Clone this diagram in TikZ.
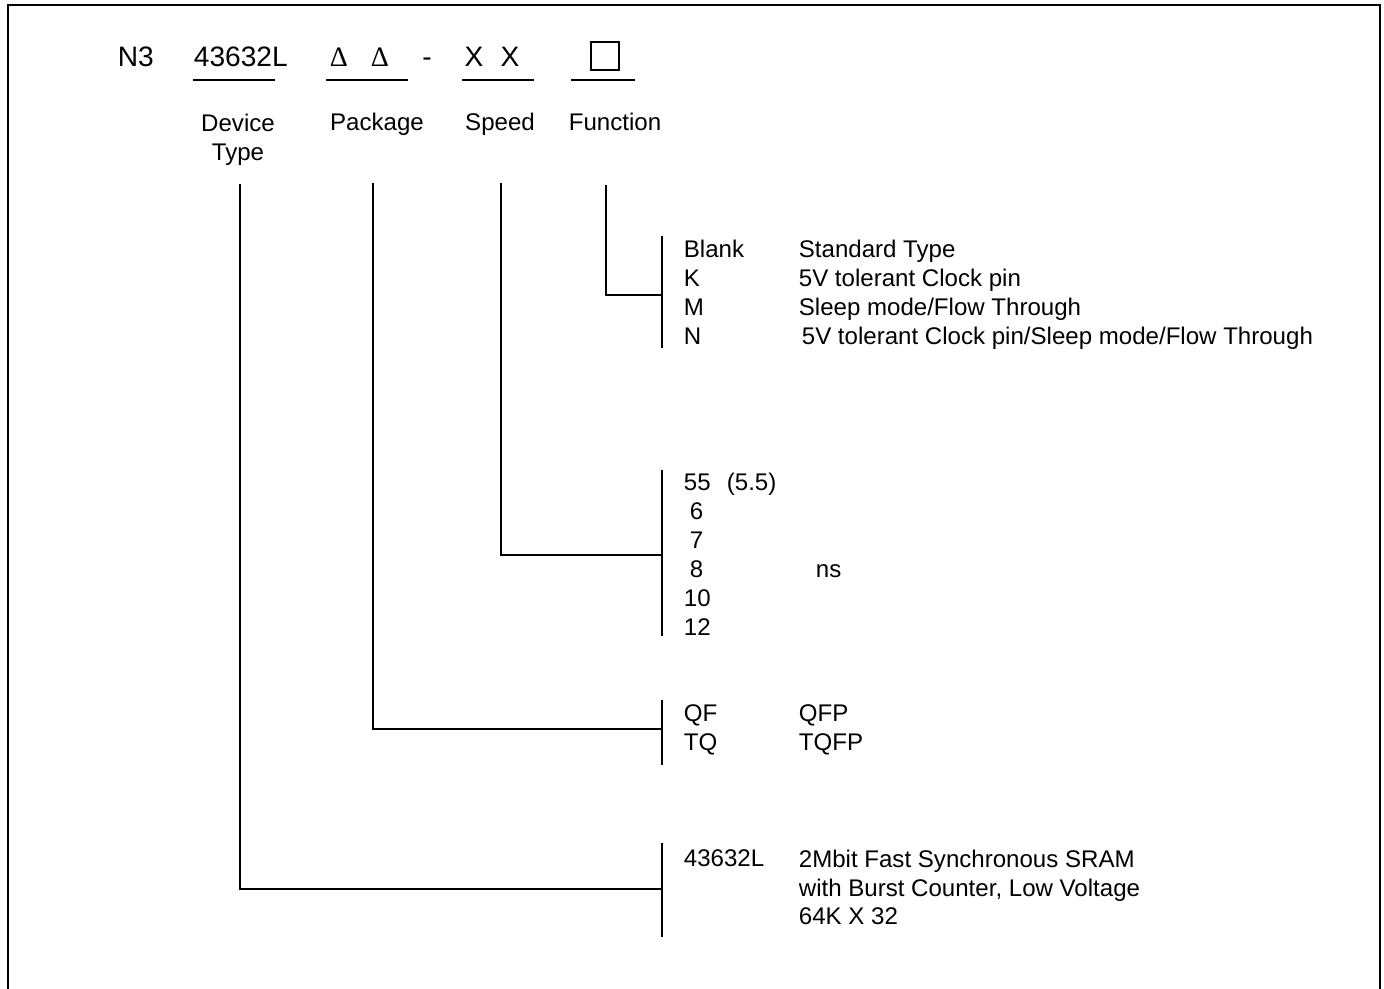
\documentclass[tikz,border=0pt]{standalone}
\usepackage{fontspec}
\setmainfont{Liberation Sans}
\newfontfamily\deltafont{Liberation Serif}
\usetikzlibrary{positioning}

\begin{document}
\begin{tikzpicture}[
    x=0.02cm, y=-0.02cm,
    line width=1pt,
    % Typography helpers
    head/.style={font=\fontsize{16}{19}\selectfont, inner sep=0pt, anchor=base},
    field/.style={font=\fontsize{13.7}{16.9}\selectfont, inner sep=0pt, anchor=base, align=center},
    code/.style={font=\fontsize{13.7}{16.4}\selectfont, inner sep=0pt, anchor=base west},
    desc/.style={code},
    % Line styling
    lead/.style={line width=1pt},
    bracket/.style={line width=1pt}
]
    \useasboundingbox (0,0) rectangle (1384,989);

    % ==========================================
    % 1. OUTER FRAME
    % ==========================================
    \draw (8,989) -- (8,5) -- (1380,5) -- (1380,989);

    % ==========================================
    % 2. PART NUMBER HEADER
    % ==========================================
    \node[head, anchor=base west] (prefix) at (117,67) {N3};
    \node[head, anchor=base west] (devcode) at (193,67) {43632L};
    \node[head] (pkg1) at (339,67) {\deltafont Δ};
    \node[head] (pkg2) at (380,67) {\deltafont Δ};
    \node[head] (dash) at (427,67) {-};
    \node[head] (spd1) at (474,67) {X};
    \node[head] (spd2) at (510,67) {X};
    \node[draw, line width=1.2pt, minimum size=0.56cm, inner sep=0pt] (fnbox) at (605,56) {};

    % Underlines
    \draw (193,80) -- (275,80);
    \draw (326,80) -- (408,80);
    \draw (462,80) -- (534,80);
    \draw (571,80) -- (635,80);

    % Field names (base of a two-line node is its last line)
    \node[field] (devlbl) at (238,161) {Device\\Type};
    \node[field] (pkglbl) at (377,131) {Package};
    \node[field] (spdlbl) at (500,131) {Speed};
    \node[field] (fnlbl) at (615,131) {Function};

    % ==========================================
    % 3. LEADER LINES AND BRACKETS
    % ==========================================
    \coordinate (devtop) at (240,184);
    \coordinate (pkgtop) at (373,183);
    \coordinate (spdtop) at (501,183);
    \coordinate (fntop) at (606,185);

    \coordinate (fnbrk) at (662,295);
    \coordinate (spdbrk) at (662,555);
    \coordinate (pkgbrk) at (662,729);
    \coordinate (devbrk) at (662,889);

    \draw[lead] (fntop) |- (fnbrk);
    \draw[lead] (spdtop) |- (spdbrk);
    \draw[lead] (pkgtop) |- (pkgbrk);
    \draw[lead] (devtop) |- (devbrk);

    \draw[bracket] (fnbrk) ++(0,-59) coordinate (fnbrkA) -- ++(0,112) coordinate (fnbrkB);
    \draw[bracket] (spdbrk) ++(0,-85) coordinate (spdbrkA) -- ++(0,166) coordinate (spdbrkB);
    \draw[bracket] (pkgbrk) ++(0,-29) coordinate (pkgbrkA) -- ++(0,65) coordinate (pkgbrkB);
    \draw[bracket] (devbrk) ++(0,-46) coordinate (devbrkA) -- ++(0,94) coordinate (devbrkB);

    % ==========================================
    % 4. CODE TABLES
    % ==========================================
    % Function
    \node[code] (fnblank) at (683,258) {Blank};
    \node[desc] (fnblankd) at (798,258) {Standard Type};
    \node[code] (fnk) at (683,287) {K};
    \node[desc] (fnkd) at (798,287) {5V tolerant Clock pin};
    \node[code] (fnm) at (683,316) {M};
    \node[desc] (fnmd) at (798,316) {Sleep mode/Flow Through};
    \node[code] (fnn) at (683,345) {N};
    \node[desc] (fnnd) at (801,345) {5V tolerant Clock pin/Sleep mode/Flow Through};

    % Speed
    \node[code] (s55) at (683,491) {55};
    \node[desc] (s55d) at (726,491) {(5.5)};
    \node[code] (s6) at (689,520) {6};
    \node[code] (s7) at (689,549) {7};
    \node[code] (s8) at (689,578) {8};
    \node[desc] (sns) at (815,578) {ns};
    \node[code] (s10) at (683,607) {10};
    \node[code] (s12) at (683,636) {12};

    % Package
    \node[code] (pqf) at (683,722) {QF};
    \node[desc] (pqfd) at (798,722) {QFP};
    \node[code] (ptq) at (683,751) {TQ};
    \node[desc] (ptqd) at (798,751) {TQFP};

    % Device type (base of the three-line node is its last line)
    \node[code] (dcode) at (683,867) {43632L};
    \node[desc, align=left] (dcoded) at (798,925) {2Mbit Fast Synchronous SRAM\\with Burst Counter, Low Voltage\\64K X 32};

\end{tikzpicture}
\end{document}
